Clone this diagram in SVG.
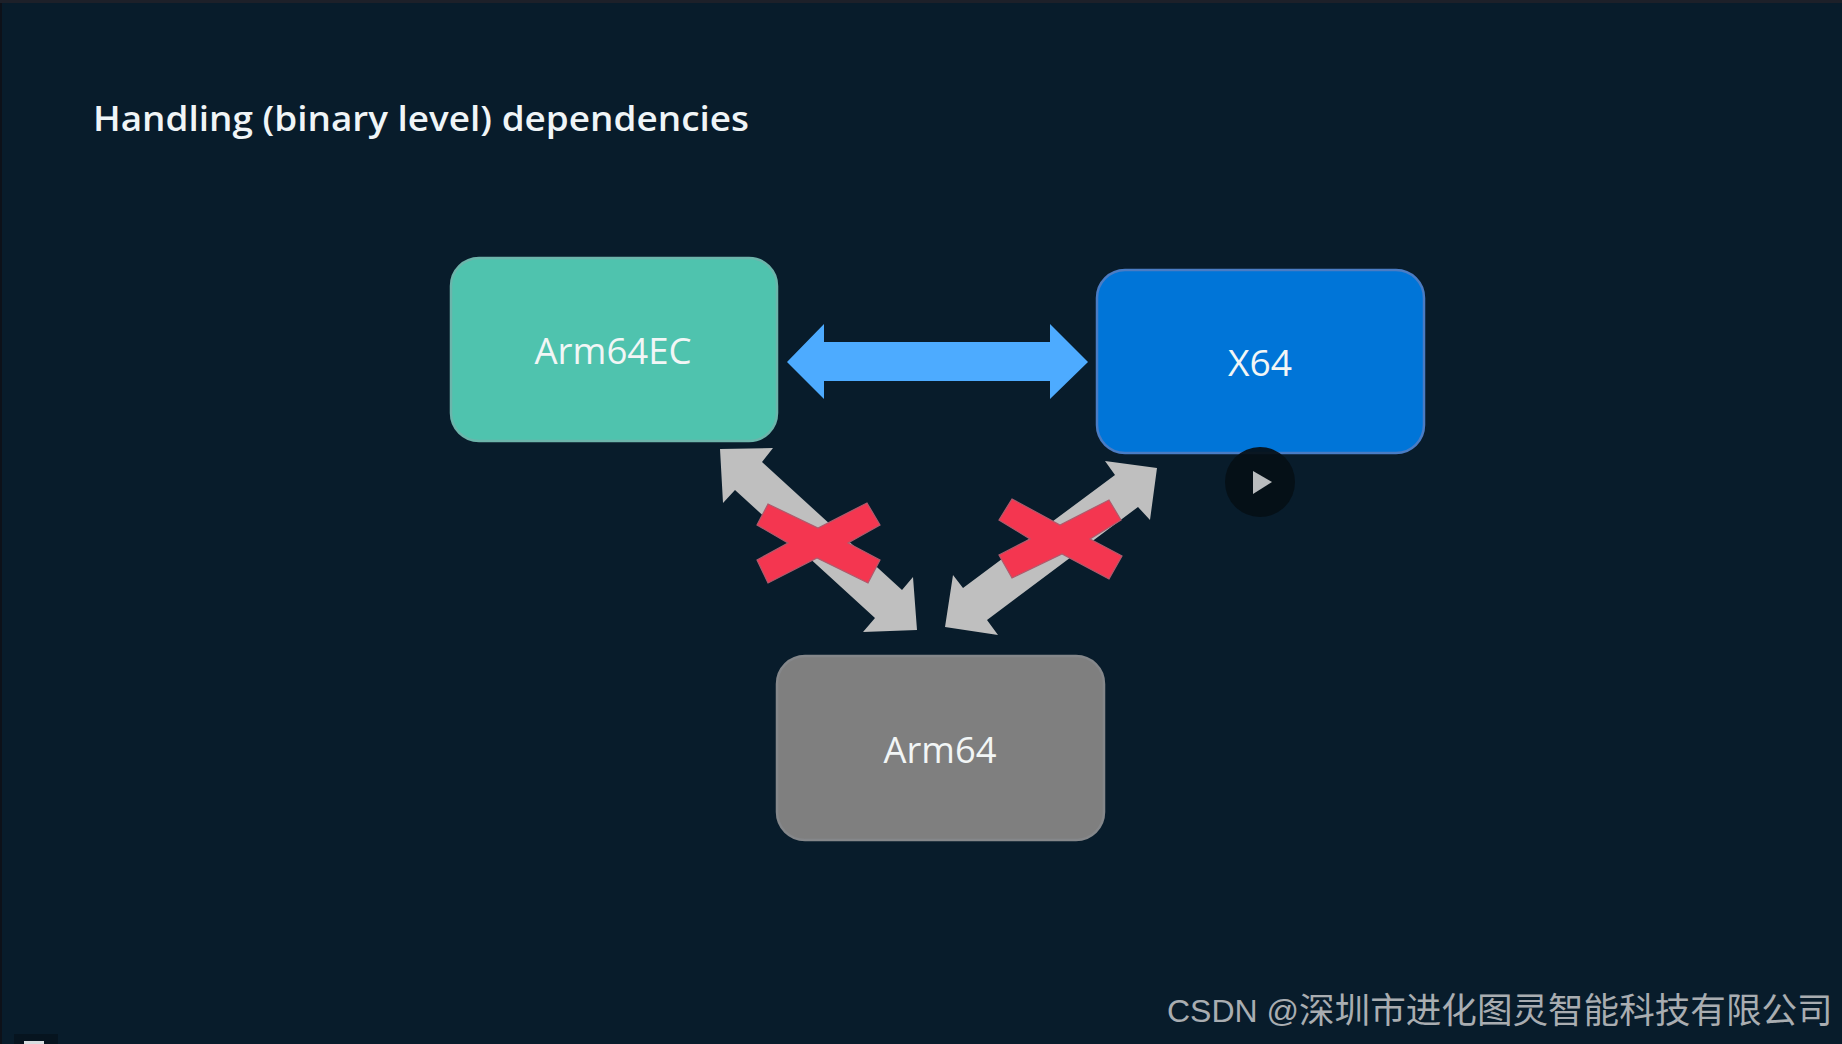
<svg xmlns="http://www.w3.org/2000/svg" width="1842" height="1044" viewBox="0 0 1842 1044">
<style>
.lbl{font-family:"Open Sans","Noto Sans",sans-serif;font-size:36px;fill:#f2f6f6;text-anchor:middle}
.box{stroke-width:2.5}
.gray{fill:#bfbfbf}
.red{fill:#f43650;stroke:#b05a6c;stroke-width:1.2}
.mark{fill:#a9adb1}
</style>
<rect width="1842" height="1044" fill="#081c2b"/>
<rect x="0" y="0" width="2" height="1044" fill="#0d1119"/>
<rect x="0" y="0" width="1842" height="3" fill="#1d2029"/>
<text x="93" y="131" font-family="Open Sans,Noto Sans,sans-serif" font-size="35" font-weight="600" fill="#f0f5f7" textLength="656" lengthAdjust="spacingAndGlyphs">Handling (binary level) dependencies</text>
<g id="connectors">
<polygon fill="#4dabff" points="787,362 824,324 824,342 1050,342 1050,324 1088,362 1050,399 1050,381 824,381 824,399"/>
<polygon class="gray" points="720,449 773,448 762,462 902,590 913,577 917,630 863,632 875,618 735,490 723,503"/>
<polygon class="gray" points="1157,468 1105,461 1115,475 963,588 953,575 945,627 998,635 987,620 1138,507 1150,520"/>
</g>
<g id="cross-left"><polygon class="red" points="768,504 818,528 867,503 880,525 848,543 880,560 868,583 817,558 768,583 757,560 788,543 757,525"/></g>
<g id="cross-right"><polygon class="red" points="1012,499 1060,525 1109,500 1121,520 1090,539 1122,556 1109,579 1062,554 1012,578 999,555 1030,539 999,520"/></g>
<g id="node-arm64ec">
<rect class="box" x="451" y="258" width="326" height="183" rx="28" fill="#4fc3ae" stroke="#6cb5ab"/>
<text class="lbl" x="613" y="364" textLength="157" lengthAdjust="spacingAndGlyphs">Arm64EC</text>
</g>
<g id="node-x64">
<rect class="box" x="1097" y="270" width="327" height="183" rx="28" fill="#0075d8" stroke="#4a7cc4"/>
<text class="lbl" x="1260" y="376" textLength="64" lengthAdjust="spacingAndGlyphs">X64</text>
</g>
<g id="node-arm64">
<rect class="box" x="777" y="656" width="327" height="184" rx="28" fill="#7f7f7f" stroke="#85878a"/>
<text class="lbl" x="940" y="763" textLength="113" lengthAdjust="spacingAndGlyphs">Arm64</text>
</g>
<g id="play">
<circle cx="1260" cy="482" r="35" fill="#050f16" fill-opacity="0.93"/>
<polygon fill="#b9bcbe" points="1253,471 1272,482 1253,494"/>
</g>
<text class="mark" x="1167" y="1022" font-family="Liberation Sans,sans-serif" font-size="32">CSDN @</text>
<text class="mark" x="1299" y="1023" font-family="Noto Sans CJK SC,sans-serif" font-size="35.6">深圳市进化图灵智能科技有限公司</text>
<rect x="14" y="1034" width="44" height="10" fill="#06141f"/>
<rect x="24" y="1041" width="20" height="3" fill="#d8dde0"/>
</svg>
